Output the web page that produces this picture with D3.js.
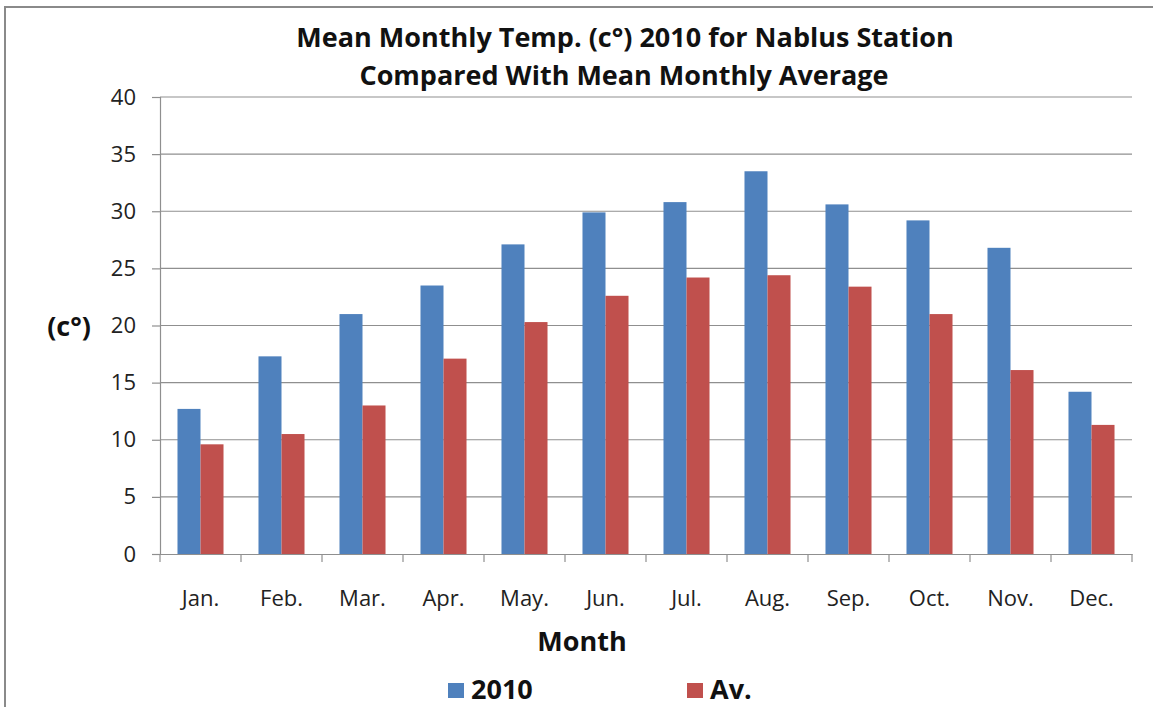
<!DOCTYPE html>
<html>
<head>
<meta charset="utf-8">
<script src="https://cdn.jsdelivr.net/npm/d3@7"></script>
<style>
  body { margin: 0; background: #fff; }
  svg { display: block; font-family: "Open Sans", sans-serif; }
</style>
</head>
<body>
<svg id="chart" width="1153" height="707"></svg>
<script>
const months = ["Jan.", "Feb.", "Mar.", "Apr.", "May.", "Jun.", "Jul.", "Aug.", "Sep.", "Oct.", "Nov.", "Dec."]
const temp2010 = [12.7, 17.3, 21.0, 23.5, 27.1, 29.9, 30.8, 33.5, 30.6, 29.2, 26.8, 14.2]
const tempAvg = [9.6, 10.5, 13.0, 17.1, 20.3, 22.6, 24.2, 24.4, 23.4, 21.0, 16.1, 11.3]
const seriesNames = ["2010", "Av."]
const yTicks = [0, 5, 10, 15, 20, 25, 30, 35, 40]

const colors = ["#4F81BD", "#C0504D"]
const plot = { left: 160, right: 1132, top: 97, bottom: 554 }

const svg = d3.select("#chart")

// outer chart border
svg.append("rect")
    .attr("x", 5).attr("y", 7)
    .attr("width", 1160).attr("height", 720)
    .attr("fill", "none")
    .attr("stroke", "#8a8a8a")
    .attr("stroke-width", 2)

const x = d3.scaleBand()
    .domain(months)
    .range([plot.left, plot.right])

const inner = d3.scaleBand()
    .domain(seriesNames)
    .range([0, x.bandwidth()])
    .paddingInner(0)
    .paddingOuter(0.76)

const y = d3.scaleLinear()
    .domain([0, 40])
    .range([plot.bottom, plot.top])

// gridlines
svg.append("g")
    .selectAll("line")
    .data(yTicks.slice(1))
    .join("line")
    .attr("x1", plot.left).attr("x2", plot.right)
    .attr("y1", d => y(d)).attr("y2", d => y(d))
    .attr("stroke", "#8f8f8f")
    .attr("stroke-width", 1.2)

// y axis
const yAxis = svg.append("g")
    .attr("transform", `translate(${plot.left},0)`)
    .call(d3.axisLeft(y).tickValues(yTicks).tickSize(8).tickPadding(16).tickFormat(d3.format("d")))
yAxis.select(".domain").attr("stroke", "#8f8f8f").attr("stroke-width", 1.2)
yAxis.selectAll(".tick line").attr("stroke", "#8f8f8f").attr("stroke-width", 1.2)
yAxis.selectAll(".tick text")
    .attr("font-family", "Open Sans, sans-serif")
    .attr("font-size", 22)
    .attr("fill", "#222")

// bars
const rows = months.map((m, i) => ({ month: m, values: [temp2010[i], tempAvg[i]] }))
const groups = svg.append("g")
    .selectAll("g")
    .data(rows)
    .join("g")
    .attr("transform", d => `translate(${x(d.month)},0)`)

groups.selectAll("rect")
    .data(d => d.values.map((v, k) => ({ key: seriesNames[k], value: v, k })))
    .join("rect")
    .attr("x", d => inner(d.key))
    .attr("width", inner.bandwidth())
    .attr("y", d => y(d.value))
    .attr("height", d => y(0) - y(d.value))
    .attr("fill", d => colors[d.k])

// x axis
const xAxis = svg.append("g")
    .attr("transform", `translate(0,${plot.bottom})`)
    .call(d3.axisBottom(x).tickSize(0).tickPadding(36))
xAxis.select(".domain").attr("stroke", "#8f8f8f").attr("stroke-width", 1.2)
xAxis.selectAll(".tick text")
    .attr("font-family", "Open Sans, sans-serif")
    .attr("font-size", 22)
    .attr("fill", "#222")

// x tick marks sit between categories
svg.append("g")
    .selectAll("line")
    .data(d3.range(months.length + 1))
    .join("line")
    .attr("x1", i => plot.left + i * x.step())
    .attr("x2", i => plot.left + i * x.step())
    .attr("y1", plot.bottom).attr("y2", plot.bottom + 8)
    .attr("stroke", "#8f8f8f")
    .attr("stroke-width", 1.2)

// titles
const title = svg.append("g")
    .attr("font-weight", "bold")
    .attr("fill", "#111")
    .attr("text-anchor", "middle")
title.append("text")
    .attr("x", 625).attr("y", 47)
    .attr("font-size", 27)
    .text("Mean Monthly Temp. (c°) 2010 for Nablus Station")
title.append("text")
    .attr("x", 624).attr("y", 85)
    .attr("font-size", 27)
    .text("Compared With Mean Monthly Average")
title.append("text")
    .attr("x", 582).attr("y", 651)
    .attr("font-size", 27)
    .text("Month")
title.append("text")
    .attr("x", 69).attr("y", 336)
    .attr("font-size", 27)
    .text("(c°)")

// legend
const legend = svg.append("g")
    .selectAll("g")
    .data(seriesNames)
    .join("g")
    .attr("transform", (d, i) => `translate(${448 + i * 239},683)`)
legend.append("rect")
    .attr("width", 16).attr("height", 15)
    .attr("fill", (d, i) => colors[i])
legend.append("text")
    .attr("x", 23).attr("y", 16)
    .attr("font-size", 27)
    .attr("font-weight", "bold")
    .attr("fill", "#111")
    .text(d => d)
</script>
</body>
</html>
